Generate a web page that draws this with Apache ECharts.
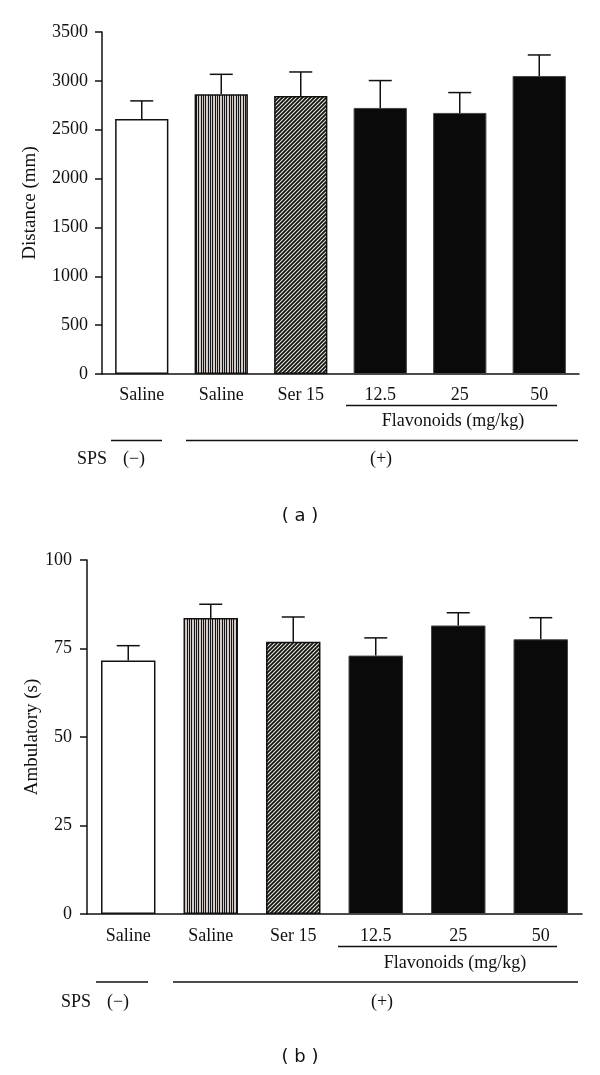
<!DOCTYPE html>
<html>
<head>
<meta charset="utf-8">
<script src="https://cdn.jsdelivr.net/npm/echarts@6/dist/echarts.min.js"></script>
<style>
html,body{margin:0;padding:0;background:#fff;}
#chart{width:600px;height:1075px;}
</style>
</head>
<body>
<div id="chart"></div>
<script>
// ---- data ----
const categories = ['Saline', 'Saline', 'Ser 15', '12.5', '25', '50'];
const distanceMean = [2610, 2863, 2846, 2723, 2672, 3050];
const distanceSem = [185, 204, 245, 280, 208, 215];
const ambulatoryMean = [71.6, 83.6, 76.9, 73.0, 81.5, 77.6];
const ambulatorySem = [4.2, 3.9, 7.0, 5.0, 3.6, 6.1];
const distanceAxis = { min: 0, max: 3500, interval: 500 };
const ambulatoryAxis = { min: 0, max: 100, interval: 25 };
const groupLabel = 'Flavonoids (mg/kg)';
const spsLabels = ['SPS', '(\u2212)', '(+)'];
const panelLabels = ['( a )', '( b )'];

// ---- patterns ----
function stripePattern() {
  const c = document.createElement('canvas');
  c.width = 7; c.height = 4;
  const g = c.getContext('2d');
  g.fillStyle = '#d2cbc8'; g.fillRect(0, 0, 7, 4);
  g.fillStyle = '#151515';
  [0, 2, 5].forEach(x => g.fillRect(x, 0, 1, 4));
  return c;
}
function hatchPattern() {
  const s = 4;
  const c = document.createElement('canvas');
  c.width = s; c.height = s;
  const g = c.getContext('2d');
  g.fillStyle = '#e4e4d8'; g.fillRect(0, 0, s, s);
  g.strokeStyle = '#111'; g.lineWidth = 1.7;
  g.beginPath();
  g.moveTo(-1, s + 1); g.lineTo(s + 1, -1);
  g.moveTo(-1, 1); g.lineTo(1, -1);
  g.moveTo(s - 1, s + 1); g.lineTo(s + 1, s - 1);
  g.stroke();
  return c;
}
const barStyles = [
  { color: '#ffffff', borderColor: '#111', borderWidth: 1.5 },
  { color: { image: stripePattern(), repeat: 'repeat' }, borderColor: '#111', borderWidth: 1.5 },
  { color: { image: hatchPattern(), repeat: 'repeat' }, borderColor: '#111', borderWidth: 1.5 },
  { color: '#0a0a0a', borderColor: '#444', borderWidth: 1 },
  { color: '#0a0a0a', borderColor: '#444', borderWidth: 1 },
  { color: '#0a0a0a', borderColor: '#444', borderWidth: 1 }
];

const serif = 'Liberation Serif';
const txt = '#111';

function errRender(params, api) {
  const x = api.value(0), top = api.value(2), mean = api.value(1);
  const p0 = api.coord([x, mean]);
  const p1 = api.coord([x, top]);
  const half = 11.5;
  const st = { stroke: '#111', lineWidth: 1.5 };
  return {
    type: 'group',
    children: [
      { type: 'line', shape: { x1: p0[0], y1: p0[1], x2: p1[0], y2: p1[1] }, style: st },
      { type: 'line', shape: { x1: p1[0] - half, y1: p1[1], x2: p1[0] + half, y2: p1[1] }, style: st }
    ]
  };
}

function xAxisCfg(gridIndex, margin) {
  return {
    type: 'category', gridIndex, data: categories,
    axisLine: { lineStyle: { color: '#111', width: 1.5 } },
    axisTick: { alignWithLabel: true, length: 5, lineStyle: { color: '#111', width: 1.5 } },
    axisLabel: { color: txt, fontFamily: serif, fontSize: 18, margin }
  };
}
function yAxisCfg(gridIndex, ax, name, nameGap, margin) {
  return {
    type: 'value', gridIndex, min: ax.min, max: ax.max, interval: ax.interval,
    name, nameLocation: 'middle', nameGap, nameMoveOverlap: false,
    nameTextStyle: { color: txt, fontFamily: serif, fontSize: 19 },
    axisLine: { show: true, lineStyle: { color: '#111', width: 1.5 } },
    axisTick: { show: true, length: 7, lineStyle: { color: '#111', width: 1.5 } },
    axisLabel: { color: txt, fontFamily: serif, fontSize: 18, margin, formatter: v => String(v) },
    splitLine: { show: false }
  };
}

const chart = echarts.init(document.getElementById('chart'), null, { renderer: 'canvas' });

function barData(means) {
  return means.map((v, i) => ({ value: v, itemStyle: barStyles[i] }));
}
function errData(means, sems) {
  return means.map((v, i) => [i, v, v + sems[i]]);
}

function hline(x1, x2, y) {
  return { type: 'line', shape: { x1, y1: y, x2, y2: y }, style: { stroke: '#111', lineWidth: 1.5 } };
}
function label(text, x, y, align, font) {
  return {
    type: 'text', x, y,
    style: { text, fill: txt, font: font || ('18px "' + serif + '"'), align: align || 'center', verticalAlign: 'middle' }
  };
}

chart.setOption({
  animation: false,
  backgroundColor: '#fff',
  grid: [
    { left: 102, right: 21, top: 32, height: 342 },
    { left: 87, right: 18, top: 560, height: 354 }
  ],
  xAxis: [xAxisCfg(0, 12), xAxisCfg(1, 13)],
  yAxis: [
    yAxisCfg(0, distanceAxis, 'Distance (mm)', 62, 14),
    yAxisCfg(1, ambulatoryAxis, 'Ambulatory (s)', 45, 15)
  ],
  series: [
    { type: 'bar', xAxisIndex: 0, yAxisIndex: 0, barWidth: '67%', data: barData(distanceMean) },
    { type: 'custom', xAxisIndex: 0, yAxisIndex: 0, renderItem: errRender, data: errData(distanceMean, distanceSem), z: 5 },
    { type: 'bar', xAxisIndex: 1, yAxisIndex: 1, barWidth: '66%', data: barData(ambulatoryMean) },
    { type: 'custom', xAxisIndex: 1, yAxisIndex: 1, renderItem: errRender, data: errData(ambulatoryMean, ambulatorySem), z: 5 }
  ],
  graphic: [
    // panel a annotations
    hline(346, 557, 405.5),
    label(groupLabel, 453, 421),
    hline(111, 162, 440.5),
    hline(186, 578, 440.5),
    label(spsLabels[0], 77, 459, 'left'),
    label(spsLabels[1], 134, 459),
    label(spsLabels[2], 381, 459),
    label(panelLabels[0], 300, 516, 'center', '18px "DejaVu Sans"'),
    // panel b annotations
    hline(338, 557, 946.5),
    label(groupLabel, 455, 963),
    hline(96, 148, 982),
    hline(173, 578, 982),
    label(spsLabels[0], 61, 1002, 'left'),
    label(spsLabels[1], 118, 1002),
    label(spsLabels[2], 382, 1002),
    label(panelLabels[1], 300, 1057, 'center', '18px "DejaVu Sans"')
  ]
});
</script>
</body>
</html>
